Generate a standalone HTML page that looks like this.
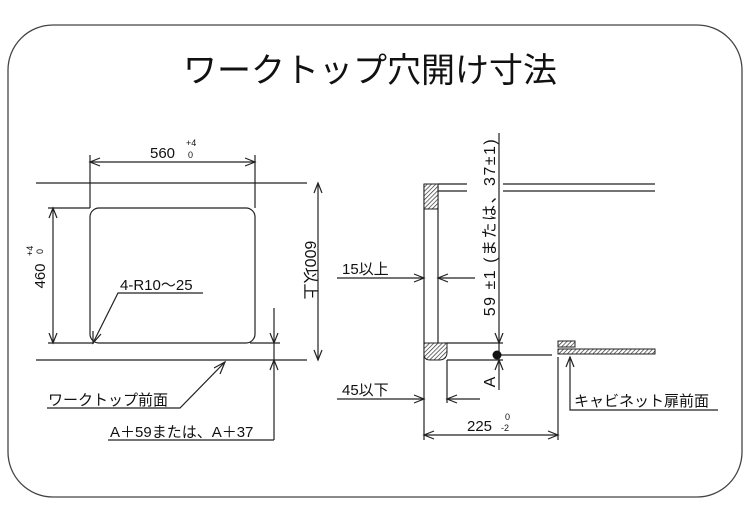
<!DOCTYPE html>
<html><head><meta charset="utf-8"><style>
body{margin:0;background:#fff;}
svg{display:block;}
text{font-family:"Liberation Sans","Noto Sans CJK JP",sans-serif;fill:#111;}
</style></head><body>
<svg width="750" height="531" viewBox="0 0 750 531" xmlns="http://www.w3.org/2000/svg">
<defs>
<pattern id="h" width="3" height="3" patternUnits="userSpaceOnUse" patternTransform="rotate(45)">
<rect width="3" height="3" fill="#fff"/><line x1="0" y1="0" x2="0" y2="3" stroke="#333" stroke-width="1.4"/></pattern>
</defs>
<rect x="8" y="25" width="734" height="472" rx="45" fill="none" stroke="#444" stroke-width="1.3"/>
<text x="370" y="82" font-size="34" text-anchor="middle">ワークトップ穴開け寸法</text>
<g stroke="#222" stroke-width="1.2" fill="none">
<line x1="36" y1="183" x2="307" y2="183"/>
<line x1="36" y1="360" x2="307" y2="360"/>
<rect x="90" y="208" width="165" height="135" rx="9"/>
<line x1="90" y1="155" x2="90" y2="208"/><line x1="255" y1="155" x2="255" y2="208"/>
<line x1="90" y1="162" x2="255" y2="162"/>
<path d="M100 158L90 162L100 166M245 158L255 162L245 166"/>
<line x1="48" y1="208" x2="90" y2="208"/><line x1="48" y1="343" x2="94" y2="343"/><line x1="250" y1="343" x2="280" y2="343"/>
<line x1="53" y1="208" x2="53" y2="343"/>
<path d="M49 218L53 208L57 218M49 333L53 343L57 333"/>
<line x1="318" y1="183" x2="318" y2="360"/>
<path d="M314 193L318 183L322 193M314 350L318 360L322 350"/>
<line x1="274" y1="308" x2="274" y2="440"/>
<path d="M270 333L274 343L278 333M270 370L274 360L278 370"/>
<line x1="108" y1="440" x2="274" y2="440"/>
<path d="M47 408L180 408L225 362"/><path d="M214 368L225 362L220 374"/>
<path d="M203 293L118 293L93 343"/><path d="M93 331L93 343L101 334"/>
<line x1="424" y1="184" x2="424" y2="440"/>
<line x1="438" y1="184" x2="438" y2="343"/>
<line x1="438" y1="184" x2="467" y2="184"/><line x1="438" y1="191" x2="467" y2="191"/>
<line x1="503" y1="184" x2="655" y2="184"/><line x1="503" y1="191" x2="655" y2="191"/>
<line x1="499" y1="133" x2="499" y2="390"/>
<path d="M495 333L499 343L503 333M495 370L499 360L503 370"/>
<line x1="444" y1="343" x2="503" y2="343"/>
<line x1="447" y1="360" x2="503" y2="360"/>
<line x1="497" y1="355" x2="552" y2="355"/>
<line x1="447" y1="360" x2="447" y2="403"/>
<line x1="558" y1="357" x2="558" y2="440"/>
<line x1="424" y1="435" x2="558" y2="435"/>
<path d="M434 431L424 435L434 439M548 431L558 435L548 439"/>
<line x1="337" y1="278" x2="424" y2="278"/><line x1="438" y1="278" x2="475" y2="278"/>
<path d="M414 274L424 278L414 282M448 274L438 278L448 282"/>
<line x1="337" y1="399" x2="424" y2="399"/><line x1="447" y1="399" x2="480" y2="399"/>
<path d="M414 395L424 399L414 403M457 395L447 399L457 403"/>
<path d="M570 357L570 410L718 410"/><path d="M566 367L570 357L574 367"/>
</g>
<rect x="424" y="184" width="14" height="25" fill="url(#h)" stroke="#222" stroke-width="1"/>
<path d="M424 343H447V352Q447 360 439 360H430Q424 360 424 354Z" fill="url(#h)" stroke="#222" stroke-width="1"/>
<rect x="558" y="341" width="17" height="6" fill="url(#h)" stroke="#222" stroke-width="1"/>
<rect x="558" y="349" width="97" height="5" fill="url(#h)" stroke="#222" stroke-width="1"/>
<circle cx="497" cy="355" r="4.5" fill="#111"/>
<g font-size="15">
<text x="150" y="158">560</text>
<text x="186" y="146" font-size="9">+4</text><text x="188" y="158" font-size="9">0</text>
<g transform="translate(45,276) rotate(-90)"><text x="0" y="0" text-anchor="middle">460</text><text x="20" y="-12" font-size="9">+4</text><text x="22" y="-2" font-size="9">0</text></g>
<text x="120" y="290">4-R10～25</text>
<text transform="translate(305,270) rotate(90)" text-anchor="middle" font-size="16">600以上</text>
<text x="48" y="405">ワークトップ前面</text>
<text x="110" y="437">A＋59または、A＋37</text>
<text x="342" y="274">15以上</text>
<text x="342" y="395">45以下</text>
<text transform="translate(495,227) rotate(-90)" text-anchor="middle" font-size="16" letter-spacing="1.5">59 ±1 (または、37±1)</text>
<text transform="translate(495,382) rotate(-90)" text-anchor="middle" font-size="16">A</text>
<text x="467" y="431">225</text>
<text x="505" y="420" font-size="9">0</text><text x="501" y="431" font-size="9">-2</text>
<text x="574" y="406">キャビネット扉前面</text>
</g>
</svg>
</body></html>
